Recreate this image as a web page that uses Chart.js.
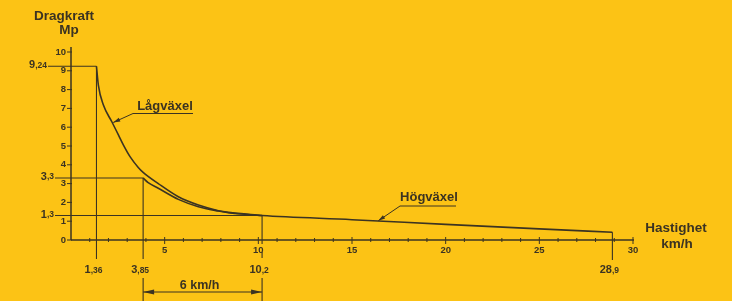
<!DOCTYPE html>
<html>
<head>
<meta charset="utf-8">
<script src="https://cdn.jsdelivr.net/npm/chart.js@4.4.0/dist/chart.umd.min.js"></script>
<style>
    html, body { margin: 0; padding: 0; background: #fcc315; }
    #wrap { width: 732px; height: 301px; position: relative; }
</style>
</head>
<body>
<div id="wrap"><canvas id="dragChart"></canvas></div>
<script>
// ========================================
// Data
// ========================================

// Lågväxel curve, speed km/h -> drag force Mp
const lowGearSpeed = [1.36, 1.46, 1.73, 2.18, 2.53, 2.80, 3.16, 3.59, 3.85, 4.66, 5.73, 6.80, 7.87, 8.41, 10.2];
const lowGearForce = [9.24, 8.24, 7.18, 6.29, 5.59, 5.05, 4.42, 3.86, 3.60, 3.00, 2.30, 1.86, 1.56, 1.47, 1.30];

// Högväxel curve
const highGearSpeed = [3.85, 4.12, 4.66, 5.73, 6.80, 7.87, 8.41, 10.2, 15, 20, 25, 28.9];
const highGearForce = [3.30, 3.05, 2.75, 2.16, 1.77, 1.54, 1.45, 1.30, 1.08, 0.83, 0.59, 0.41];

// marked points (guide lines)
const markSpeeds = [1.36, 3.85, 10.2, 28.9];
const markForces = [9.24, 3.3, 1.3, 0.41];
const speedLabels = ['1,36', '3,85', '10,2', '28,9'];
const forceLabels = ['9,24', '3,3', '1,3', null];

const xTickLabels = [5, 10, 15, 20, 25, 30];
const yTickLabels = [0, 1, 2, 3, 4, 5, 6, 7, 8, 9, 10];

const INK = '#3b3322';
const FONT = '"Liberation Sans", Arial, sans-serif';

// ========================================
// Drawing helpers
// ========================================

const line = (c, x1, y1, x2, y2) => {
    c.beginPath();
    c.moveTo(x1, y1);
    c.lineTo(x2, y2);
    c.stroke();
};

const arrowHead = (c, tipX, tipY, fromX, fromY, len, half) => {
    const a = Math.atan2(tipY - fromY, tipX - fromX);
    c.beginPath();
    c.moveTo(tipX, tipY);
    c.lineTo(tipX - len * Math.cos(a) + half * Math.sin(a), tipY - len * Math.sin(a) - half * Math.cos(a));
    c.lineTo(tipX - len * Math.cos(a) - half * Math.sin(a), tipY - len * Math.sin(a) + half * Math.cos(a));
    c.closePath();
    c.fill();
};

// "9,24" -> big "9", small ",24"
const splitText = (c, txt, x, y, align, bigSize, smallSize) => {
    const parts = txt.split(',');
    const big = parts[0];
    const small = ',' + parts[1];
    c.font = 'bold ' + bigSize + 'px ' + FONT;
    const wb = c.measureText(big).width;
    c.font = 'bold ' + smallSize + 'px ' + FONT;
    const ws = c.measureText(small).width;
    let left = x;
    if (align === 'right') left = x - wb - ws;
    if (align === 'center') left = x - (wb + ws) / 2;
    c.textAlign = 'left';
    c.font = 'bold ' + bigSize + 'px ' + FONT;
    c.fillText(big, left, y);
    c.font = 'bold ' + smallSize + 'px ' + FONT;
    c.fillText(small, left + wb, y);
};

const markPlugin = {
    id: 'marks',
    afterDatasetsDraw: (chart) => {
        const c = chart.ctx;
        const xs = chart.scales.x;
        const ys = chart.scales.y;
        const x0 = xs.getPixelForValue(0);
        const y0 = ys.getPixelForValue(0);

        c.save();
        c.strokeStyle = INK;
        c.fillStyle = INK;
        c.textBaseline = 'alphabetic';

        // axes
        c.lineWidth = 1.5;
        line(c, x0, y0, x0, ys.getPixelForValue(10) - 5);
        line(c, x0, y0, xs.getPixelForValue(30) + 1, y0);

        // tick marks
        c.lineWidth = 1;
        for (let v = 1; v <= 30; v++) {
            const px = xs.getPixelForValue(v);
            if (v % 5 === 0) line(c, px, y0 - 3, px, y0 + 4);
            else line(c, px, y0 - 2, px, y0 + 2);
        }
        yTickLabels.forEach(v => {
            const py = ys.getPixelForValue(v);
            line(c, x0 - 4, py, x0 + 1, py);
        });

        // guide lines
        c.lineWidth = 1.1;
        const lineStart = [48, 55, 55];
        const gaps = [
            [[0, 259]],
            [[0, 259], [278, 301]],
            [[0, 244], [252, 258], [278, 301]],
            [[0, 260]]
        ];
        markSpeeds.forEach((s, i) => {
            const px = xs.getPixelForValue(s);
            const py = ys.getPixelForValue(markForces[i]);
            if (forceLabels[i]) {
                line(c, lineStart[i], py, px, py);
                c.textBaseline = 'middle';
                splitText(c, forceLabels[i], lineStart[i] - 1, py - 1, 'right', 11, 8.5);
                c.textBaseline = 'alphabetic';
            }
            gaps[i].forEach(g => {
                const top = g[0] === 0 ? py : g[0];
                line(c, px, top, px, g[1]);
            });
            splitText(c, speedLabels[i], px - 3, 273, 'center', 11, 8.5);
        });

        // 6 km/h span arrow
        const a1 = xs.getPixelForValue(markSpeeds[1]);
        const a2 = xs.getPixelForValue(markSpeeds[2]);
        c.lineWidth = 1.1;
        line(c, a1, 292, a2, 292);
        arrowHead(c, a1, 292, a2, 292, 11, 2.5);
        arrowHead(c, a2, 292, a1, 292, 11, 2.5);
        c.font = 'bold 12.5px ' + FONT;
        c.textAlign = 'center';
        c.fillText('6 km/h', (a1 + a2) / 2 - 3, 289);

        // axis titles
        c.font = 'bold 13.5px ' + FONT;
        c.fillText('Dragkraft', 64, 20);
        c.fillText('Mp', 69, 34);
        c.fillText('Hastighet', 676, 232);
        c.fillText('km/h', 677, 248);

        // curve labels with leaders
        c.font = 'bold 13px ' + FONT;
        c.fillText('Lågväxel', 165, 110);
        c.fillText('Högväxel', 429, 201);
        c.lineWidth = 1;
        line(c, 133, 113.5, 193, 113.5);
        const t1x = xs.getPixelForValue(2.2);
        const t1y = ys.getPixelForValue(6.25);
        line(c, 133, 113.5, t1x + 1, t1y);
        arrowHead(c, t1x + 1, t1y, 133, 113.5, 7, 2);
        line(c, 400, 206, 456, 206);
        const t2x = xs.getPixelForValue(16.4);
        const t2y = ys.getPixelForValue(1.02);
        line(c, 400, 206, t2x, t2y);
        arrowHead(c, t2x, t2y, 400, 206, 7, 2);

        c.restore();
    }
};

// ========================================
// Chart
// ========================================

const toPoints = (xs, ys) => xs.map((x, i) => ({ x: x, y: ys[i] }));

const ctx = document.getElementById('dragChart');
new Chart(ctx.getContext('2d'), {
    type: 'line',
    data: {
        datasets: [{
            label: 'Lågväxel',
            data: toPoints(lowGearSpeed, lowGearForce),
            borderColor: INK,
            borderWidth: 1.6,
            pointRadius: 0,
            cubicInterpolationMode: 'monotone',
            fill: false
        }, {
            label: 'Högväxel',
            data: toPoints(highGearSpeed, highGearForce),
            borderColor: INK,
            borderWidth: 1.6,
            pointRadius: 0,
            cubicInterpolationMode: 'monotone',
            fill: false
        }]
    },
    options: {
        responsive: true,
        maintainAspectRatio: false,
        animation: false,
        layout: { padding: { left: 0, top: 52, right: 99, bottom: 0 } },
        plugins: { legend: { display: false }, tooltip: { enabled: false } },
        scales: {
            x: {
                type: 'linear',
                min: 0,
                max: 30,
                afterFit: s => { s.height = 61; },
                grid: { display: false, drawTicks: false },
                border: { display: false },
                ticks: {
                    stepSize: 1,
                    autoSkip: false,
                    maxRotation: 0,
                    padding: 5,
                    color: INK,
                    font: { family: FONT, size: 9.5, weight: 'bold' },
                    callback: v => xTickLabels.includes(v) ? String(v) : ''
                }
            },
            y: {
                min: 0,
                max: 10,
                afterFit: s => { s.width = 71; },
                grid: { display: false, drawTicks: false },
                border: { display: false },
                ticks: {
                    stepSize: 1,
                    padding: 5,
                    color: INK,
                    font: { family: FONT, size: 9.5, weight: 'bold' },
                    callback: v => yTickLabels.includes(v) ? String(v) : ''
                }
            }
        }
    },
    plugins: [markPlugin]
});
</script>
</body>
</html>
